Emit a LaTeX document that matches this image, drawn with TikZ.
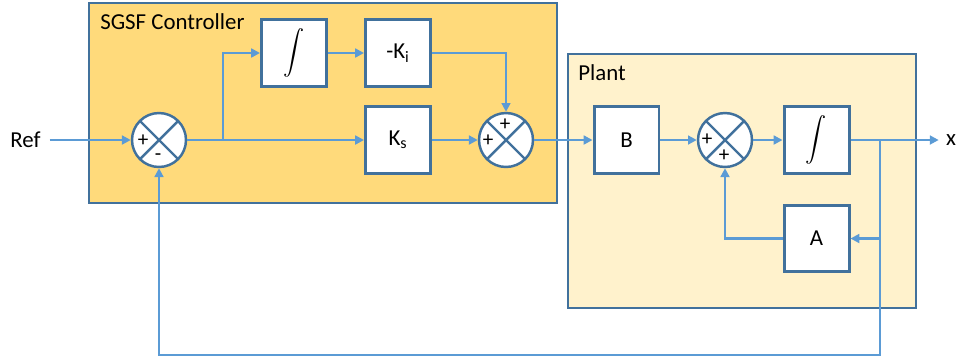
\documentclass[tikz,border=0pt]{standalone}
\usepackage{fontspec}
\setmainfont{Carlito}
\usetikzlibrary{arrows.meta,positioning}

\definecolor{lineblue}{HTML}{5B9BD5}
\definecolor{boxblue}{HTML}{41719C}
\definecolor{ctrlfill}{HTML}{FFDA7B}
\definecolor{plantfill}{HTML}{FFF2CC}

\tikzset{
  block/.style={draw=boxblue, line width=1.7pt, fill=white, inner sep=0pt,
    minimum width=1.3cm, minimum height=1.33cm, font=\fontsize{13}{15}\selectfont},
  sumnode/.style={circle, draw=boxblue, line width=1.4pt, fill=white, inner sep=0pt,
    minimum size=1.08cm,
    path picture={
      \draw[boxblue, line width=1.4pt]
        (path picture bounding box.north west) -- (path picture bounding box.south east)
        (path picture bounding box.north east) -- (path picture bounding box.south west);
    }},
  sgn/.style={inner sep=0pt, font=\fontsize{12}{13}\selectfont},
  sig/.style={draw=lineblue, line width=1.6pt, -{Triangle[length=5pt,width=5pt]}},
  area/.style={draw=boxblue, line width=0.6pt},
  lbl/.style={font=\fontsize{13}{15}\selectfont}
}

\newcommand{\integ}{\scalebox{1.2}[1.25]{$\displaystyle\int$}}

\begin{document}
\begin{tikzpicture}[x=0.02cm, y=-0.02cm]
    \useasboundingbox (0,0) rectangle (956,360);

    % controller and plant areas
    \draw[area, fill=ctrlfill] (89,3) rectangle (557,203);
    \node[lbl, anchor=west, inner sep=0pt] (ctrltitle) at (100,22) {SGSF Controller};
    \draw[area, fill=plantfill] (568,54) rectangle (916,308);
    \node[lbl, anchor=west, inner sep=0pt] (planttitle) at (578,73) {Plant};

    % controller
    \node[lbl, inner sep=5pt] (ref) at (25.5,140) {Ref};
    \node[sumnode] (s1) at (159,140) {};
    \node[sgn] at ([shift={(-16,1)}]s1.center) {+};
    \node[sgn] at ([shift={(-1,17)}]s1.center) {-};
    \node[block] (int1) at (294,53) {\integ};
    \node[block] (ki) at (398,53) {-K\textsubscript{i}};
    \node[block] (ks) at (398,140) {K\textsubscript{s}};
    \node[sumnode] (s2) at (506,140) {};
    \node[sgn] at ([shift={(-18,1)}]s2.center) {+};
    \node[sgn] at ([shift={(-1,-15)}]s2.center) {+};
    \coordinate (br) at (223,140);

    % plant
    \node[block] (b) at (626.5,140) {B};
    \node[sumnode] (s3) at (725,140) {};
    \node[sgn] at ([shift={(-18,0)}]s3.center) {+};
    \node[sgn] at ([shift={(-1,16)}]s3.center) {+};
    \node[block] (int2) at (816.5,140) {\integ};
    \node[block] (a) at (816.5,238.5) {A};
    \node[lbl, inner sep=4pt] (xout) at (951,140) {x};
    \coordinate (bo) at (880,140);
    \coordinate (lp) at (880,355);

    % signals
    \draw[sig] (ref) -- (s1);
    \draw[sig] (s1) -- (ks);
    \draw[sig] (br) |- (int1);
    \draw[sig] (int1) -- (ki);
    \draw[sig] (ki) -| (s2);
    \draw[sig] (ks) -- (s2);
    \draw[sig] (s2) -- (b);
    \draw[sig] (b) -- (s3);
    \draw[sig] (s3) -- (int2);
    \draw[sig] (int2) -- (xout);
    \draw[sig] (bo) |- (a);
    \draw[sig] (a) -| (s3);
    \draw[sig] (bo) -- (lp) -| (s1);
\end{tikzpicture}
\end{document}
